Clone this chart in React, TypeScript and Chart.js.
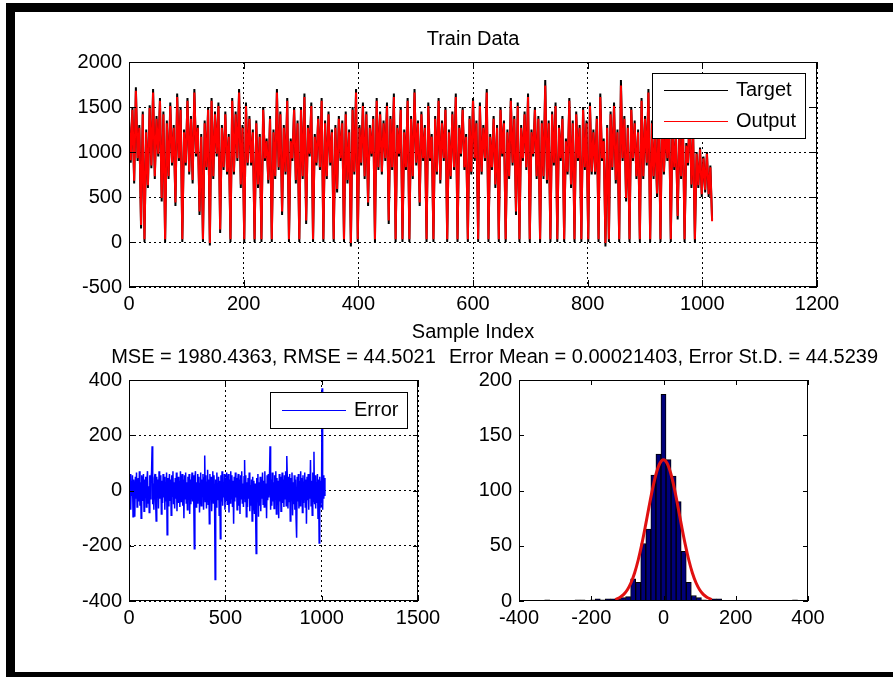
import React, { useEffect, useRef } from "react";
import { Chart, registerables } from "chart.js";

Chart.register(...registerables);

const FONT = "'Liberation Sans', Arial, Helvetica, sans-serif";

// ---------------- data ----------------
const trainStep = 3; // sample index spacing of the stored values
const trainTarget = [
  1400, 880, 1500, 650, 1720, 900, 1300, 150, 1450, 0,
  1250, 600, 1520, 820, 1700, 700, 1400, 950, 1600, 450,
  1450, 0, 1350, 700, 1550, 850, 1300, 400, 1650, 900,
  1500, 0, 1250, 850, 1600, 750, 1400, 650, 1700, 950,
  1300, 300, 1200, 0, 1350, 800, 1500, -40, 1600, 700,
  1450, 950, 1550, 100, 1300, 800, 1450, 750, 1200, 0,
  1600, 750, 1450, 900, 1700, 600, 1300, 0, 1550, 850,
  1400, 850, 1250, 0, 1350, 600, 1200, 0, 1500, 900,
  1150, 650, 1400, 0, 1250, 700, 1700, 800, 1450, 300,
  1300, 750, 1600, 0, 1150, 900, 1500, 650, 1350, 0,
  1500, 700, 1650, 200, 1300, 950, 1550, 0, 1200, 850,
  1400, 800, 1600, 0, 1350, 700, 1450, 850, 1250, 0,
  1300, 550, 1400, 900, 1350, 0, 1450, 650, 1250, -50,
  1500, 750, 1700, 0, 1300, 850, 1550, 700, 1450, 400,
  1300, 950, 1400, 0, 1600, 800, 1450, 750, 1350, 900,
  1550, 200, 1400, 800, 1650, 0, 1300, 950, 1500, 0,
  1250, 800, 1600, 0, 1400, 700, 1700, 850, 1350, 400,
  1450, 900, 1300, 0, 1550, 900, 1200, 0, 1400, 750,
  1600, 650, 1350, 900, 1500, 0, 1250, 700, 1450, 800,
  1650, 0, 1300, 950, 1500, 800, 1200, 0, 1400, 750,
  1600, 900, 1350, 0, 1550, 750, 1300, 900, 1700, 0,
  1200, 800, 1400, 600, 1300, 0, 1500, 950, 1350, 0,
  1250, 700, 1600, 850, 1400, 300, 1550, 0, 1300, 900,
  1450, 800, 1650, 0, 1250, 950, 1500, 700, 1400, 0,
  1350, 700, 1800, 650, 1350, 0, 1450, 850, 1550, 0,
  1300, 900, 1400, 0, 1150, 750, 1600, 600, 1350, 0,
  1450, 900, 1300, 0, 1500, 800, 1350, 0, 1550, 750,
  1250, 750, 1400, 0, 1650, 900, 1150, -50, 1300, 0,
  1450, 800, 1550, 650, 1250, 0, 1800, 900, 1400, 450,
  1300, 0, 1500, 900, 1350, 700, 1250, 0, 1600, 700,
  1400, 850, 1700, 0, 1350, 700, 1250, 500, 1450, 0,
  1550, 750, 1300, 900, 1450, 0, 1350, 800, 1200, 250,
  1250, 700, 1400, 0, 1100, 850, 1500, 600, 1200, 0,
  1000, 600, 1050, 500, 950, 550, 1000, 500, 850, 250,
];
const trainOutput = [
  1370, 910, 1470, 680, 1680, 930, 1270, 190, 1420, 30,
  1220, 630, 1490, 850, 1660, 730, 1370, 980, 1570, 490,
  1420, 30, 1320, 730, 1510, 880, 1270, 440, 1610, 930,
  1470, 30, 1220, 880, 1570, 780, 1370, 690, 1660, 980,
  1270, 340, 1170, 30, 1320, 830, 1470, -10, 1570, 730,
  1420, 980, 1510, 140, 1270, 830, 1420, 780, 1170, 30,
  1570, 780, 1420, 930, 1660, 640, 1270, 30, 1510, 880,
  1370, 880, 1220, 30, 1320, 640, 1170, 30, 1470, 930,
  1120, 690, 1370, 30, 1220, 730, 1660, 830, 1420, 340,
  1270, 780, 1570, 30, 1120, 930, 1470, 690, 1320, 30,
  1470, 730, 1610, 240, 1270, 980, 1510, 30, 1170, 880,
  1370, 830, 1570, 30, 1320, 730, 1420, 880, 1220, 30,
  1270, 590, 1370, 930, 1320, 30, 1420, 690, 1220, -10,
  1470, 780, 1660, 30, 1270, 880, 1510, 730, 1420, 440,
  1270, 980, 1370, 30, 1570, 830, 1420, 780, 1320, 930,
  1510, 240, 1370, 830, 1610, 30, 1270, 980, 1470, 30,
  1220, 830, 1570, 30, 1370, 730, 1660, 880, 1320, 440,
  1420, 930, 1270, 30, 1510, 930, 1170, 30, 1370, 780,
  1570, 690, 1320, 930, 1470, 30, 1220, 730, 1420, 830,
  1610, 30, 1270, 980, 1470, 830, 1170, 30, 1370, 780,
  1570, 930, 1320, 30, 1510, 780, 1270, 930, 1660, 30,
  1170, 830, 1370, 640, 1270, 30, 1470, 980, 1320, 30,
  1220, 730, 1570, 880, 1370, 340, 1510, 30, 1270, 930,
  1420, 830, 1610, 30, 1220, 980, 1470, 730, 1370, 30,
  1320, 730, 1740, 690, 1320, 30, 1420, 880, 1510, 30,
  1270, 930, 1370, 30, 1120, 780, 1570, 640, 1320, 30,
  1420, 930, 1270, 30, 1470, 830, 1320, 30, 1510, 780,
  1220, 780, 1370, 30, 1610, 930, 1120, -10, 1270, 30,
  1420, 830, 1510, 690, 1220, 30, 1740, 930, 1370, 490,
  1270, 30, 1470, 930, 1320, 730, 1220, 30, 1570, 730,
  1370, 880, 1660, 30, 1320, 730, 1220, 540, 1420, 30,
  1510, 780, 1270, 930, 1420, 30, 1320, 830, 1170, 290,
  1220, 730, 1370, 30, 1070, 880, 1470, 640, 1170, 30,
  980, 630, 1030, 530, 930, 580, 980, 530, 830, 230,
];

const errorStep = 3;
const errorValues = [
  20, -45, 60, -70, 35, -20, 55, -95, 40, 10,
  -95, 50, -30, 65, -60, 25, 45, -40, 70, -55,
  30, -100, 55, -35, 20, 60, -75, 40, -25, 50,
  -60, 35, 70, -45, 15, -80, 55, -30, 40, 65,
  160, -50, 25, -70, 45, 60, -35, -110, 50, -20,
  40, -65, 70, -30, 15, 55, -85, 35, -45, 60,
  -25, 50, -70, 30, -40, 65, -160, 45, -55, 20,
  60, -35, 40, -90, 55, -20, 70, -50, 30, -65,
  45, -30, 65, -75, 20, 50, -45, 35, -60, 70,
  -40, 25, 60, -55, 40, -100, 55, -30, 65, -45,
  30, -70, 50, -25, 60, -85, 40, -50, 20, 65,
  -40, 55, -30, -211, 45, 70, -60, 30, -45, 60,
  -35, 50, -80, 25, 65, -55, 40, -20, 60, -70,
  45, 127, -40, 55, -65, 30, 75, -50, 40, -120,
  60, -35, 50, -75, 25, 70, -45, 55, -30, -322,
  40, -60, 65, -35, 20, 50, -90, 35, -175, 55,
  -40, 70, -55, 30, -25, 60, -70, 45, -35, 65,
  -50, 25, 60, -80, 40, -45, 70, -30, 55, -60,
  35, -120, 50, -40, 65, -25, 45, -70, 30, 60,
  -55, 40, -85, 55, -30, 70, -45, 25, -60, 50,
  110, -40, 55, -95, 30, -60, 45, -30, 65, -75,
  20, -55, 40, -110, 50, -70, 35, -85, 25, -65,
  -228, 45, -40, 60, -95, 30, -55, 50, -75, 40,
  -30, 65, -50, 35, -60, 70, -45, 25, -100, 55,
  -35, 60, -25, 45, 160, -70, 40, -55, 65, -40,
  30, -65, 55, -30, 70, -85, 45, -50, 35, -100,
  60, -40, 50, -75, 25, 65, -45, 40, -60, 55,
  -30, 70, -55, 125, 35, -65, 50, -40, 60, -110,
  45, -35, 65, -90, 30, -50, 55, -70, 40, -100,
  -171, 50, -40, 60, -65, 35, -55, 70, -30, 45,
  -80, 55, -45, 30, 65, -60, 40, -120, 50, -35,
  60, -70, 45, -30, 110, -55, 35, -90, 65, -40,
  140, -50, 55, -65, 30, -45, 60, -100, 40, -190,
  50, -60, 35, -45, 370, -70, 55, -30, 45, -20,
];

const histCenters = [
  -322, -308, -294, -280, -266, -252, -238, -224, -210, -196,
  -182, -168, -154, -140, -126, -112, -98, -84, -70, -56,
  -42, -28, -14, 0, 14, 28, 42, 56, 70, 84,
  98, 112, 126, 140, 154, 168, 182, 196, 210, 224,
  238, 252, 266, 280, 294, 308, 322, 336, 350, 364,
];
const histCounts = [
  1, 0, 0, 0, 0, 0, 1, 1, 0, 1,
  2, 1, 2, 2, 2, 3, 4, 20, 17, 52,
  65, 114, 133, 187, 128, 113, 90, 45, 17, 5,
  3, 1, 0, 2, 2, 0, 0, 0, 0, 0,
  0, 0, 0, 0, 0, 0, 0, 0, 0, 1,
];
const fitX = [-133.6, -120, -110, -100, -90, -80, -70, -60, -50, -40, -30, -20, -10, 0,
  10, 20, 30, 40, 50, 60, 70, 80, 90, 100, 110, 120, 133.6];
const fitY = [1.4, 3.4, 6.0, 10.2, 16.5, 25.4, 37.1, 51.5, 68.0, 85.4, 101.9, 115.6, 124.7, 127.9,
  124.7, 115.6, 101.9, 85.4, 68.0, 51.5, 37.1, 25.4, 16.5, 10.2, 6.0, 3.4, 1.4];

const trainXTicks = [0, 200, 400, 600, 800, 1000, 1200];
const trainYTicks = [-500, 0, 500, 1000, 1500, 2000];
const errXTicks = [0, 500, 1000, 1500];
const errYTicks = [-400, -200, 0, 200, 400];
const histXTicks = [-400, -200, 0, 200, 400];
const histYTicks = [0, 50, 100, 150, 200];

const trainTitle = "Train Data";
const trainXLabel = "Sample Index";
const errTitle = "MSE = 1980.4363, RMSE = 44.5021";
const histTitle = "Error Mean = 0.00021403, Error St.D. = 44.5239";

// ---------------- helpers ----------------
const W = 893;
const H = 677;

const matlabAxes = {
  id: "matlabAxes",
  afterDatasetsDraw(chart: any, _args: any, opts: any) {
    const { ctx, chartArea: a, scales } = chart;
    const xs = scales.x;
    const ys = scales.y;
    ctx.save();
    ctx.setLineDash([]);
    ctx.strokeStyle = "#000";
    ctx.lineWidth = 1;
    const len = opts.tickLength || 5;
    ctx.beginPath();
    xs.ticks.forEach((t: any) => {
      const px = Math.round(xs.getPixelForValue(t.value)) + 0.5;
      ctx.moveTo(px, a.bottom);
      ctx.lineTo(px, a.bottom - len);
      ctx.moveTo(px, a.top);
      ctx.lineTo(px, a.top + len);
    });
    ys.ticks.forEach((t: any) => {
      const py = Math.round(ys.getPixelForValue(t.value)) + 0.5;
      ctx.moveTo(a.left, py);
      ctx.lineTo(a.left + len, py);
      ctx.moveTo(a.right, py);
      ctx.lineTo(a.right - len, py);
    });
    ctx.stroke();
    ctx.strokeRect(
      Math.round(a.left) + 0.5,
      Math.round(a.top) + 0.5,
      Math.round(a.right - a.left) - 1,
      Math.round(a.bottom - a.top) - 1
    );

    ctx.font = `20px ${FONT}`;
    ctx.fillStyle = "#000";
    if (opts.title) {
      ctx.textAlign = "center";
      ctx.textBaseline = "middle";
      ctx.fillText(opts.title, (a.left + a.right) / 2, a.top - 23);
    }

    if (opts.legend) {
      const lg = opts.legend;
      const items = chart.data.datasets.filter((d: any) => d.label);
      const textW = Math.max(...items.map((d: any) => ctx.measureText(d.label).width));
      const padL = 12, lineLen = 64, gap = 8, padR = 9, rowH = 31;
      const padV = lg.padV;
      const w = Math.round(padL + lineLen + gap + textW + padR);
      const h = Math.round(padV * 2 + rowH * (items.length - 1));
      const x0 = Math.round(a.right - lg.insetRight - w);
      const y0 = Math.round(a.top + lg.insetTop);
      ctx.fillStyle = "#fff";
      ctx.fillRect(x0, y0, w, h);
      ctx.strokeStyle = "#000";
      ctx.strokeRect(x0 + 0.5, y0 + 0.5, w, h);
      items.forEach((d: any, i: number) => {
        const cy = Math.round(y0 + padV + i * rowH) + 0.5;
        ctx.strokeStyle = d.borderColor;
        ctx.lineWidth = 1.2;
        ctx.beginPath();
        ctx.moveTo(x0 + padL, cy);
        ctx.lineTo(x0 + padL + lineLen, cy);
        ctx.stroke();
        ctx.fillStyle = "#000";
        ctx.textAlign = "left";
        ctx.textBaseline = "middle";
        ctx.fillText(d.label, x0 + padL + lineLen + gap, cy);
      });
    }
    ctx.restore();
  },
};

function axis(min: number, max: number, ticks: number[], horizontal: boolean, size: number, grid: boolean, title?: string) {
  return {
    type: "linear",
    min,
    max,
    offset: false,
    afterBuildTicks: (s: any) => {
      s.ticks = ticks.map((v) => ({ value: v }));
    },
    afterFit: (s: any) => {
      if (horizontal) s.height = size;
      else s.width = size;
    },
    ticks: {
      color: "#000",
      font: { family: FONT, size: 20 },
      padding: horizontal ? 5 : 7,
      maxRotation: 0,
      minRotation: 0,
      autoSkip: false,
      callback: (v: any) => String(v),
    },
    grid: {
      display: grid,
      color: "#000",
      lineWidth: 1,
      drawTicks: false,
      offset: false,
    },
    border: { display: false, dash: [2, 3] },
    title: title
      ? {
          display: true,
          text: title,
          color: "#000",
          font: { family: FONT, size: 20 },
          padding: { top: 0, bottom: 3 },
        }
      : { display: false },
  };
}

function baseOptions(padding: any, pluginOpts: any, scales: any) {
  return {
    animation: false,
    responsive: false,
    maintainAspectRatio: false,
    devicePixelRatio: 1,
    events: [],
    layout: { padding },
    plugins: {
      legend: { display: false },
      tooltip: { enabled: false },
      title: { display: false },
      matlabAxes: pluginOpts,
    },
    scales,
  };
}

function trainConfig(): any {
  return {
    type: "line",
    data: {
      datasets: [
        {
          label: "Target",
          data: trainTarget.map((y, i) => ({ x: i * trainStep, y })),
          borderColor: "#000000",
          borderWidth: 2,
          pointRadius: 0,
          tension: 0,
          fill: false,
          order: 1,
        },
        {
          label: "Output",
          data: trainOutput.map((y, i) => ({ x: i * trainStep, y })),
          borderColor: "#ff0000",
          borderWidth: 2,
          pointRadius: 0,
          tension: 0,
          fill: false,
          order: 0,
        },
      ],
    },
    options: baseOptions(
      { left: 69, top: 62, right: 76, bottom: 330 },
      { title: trainTitle, tickLength: 7, legend: { insetRight: 12, insetTop: 11, padV: 17 } },
      {
        x: axis(0, 1200, trainXTicks, true, 60, true, trainXLabel),
        y: axis(-500, 2000, trainYTicks, false, 60, true),
      }
    ),
    plugins: [matlabAxes],
  };
}

function errorConfig(): any {
  return {
    type: "line",
    data: {
      datasets: [
        {
          label: "Error",
          data: errorValues.map((y, i) => ({ x: i * errorStep, y })),
          borderColor: "#0000ff",
          borderWidth: 1.5,
          pointRadius: 0,
          tension: 0,
          fill: false,
        },
      ],
    },
    options: baseOptions(
      { left: 69, top: 380, right: 475, bottom: 36 },
      { title: errTitle, tickLength: 5, legend: { insetRight: 11, insetTop: 12, padV: 18 } },
      {
        x: axis(0, 1500, errXTicks, true, 40, true),
        y: axis(-400, 400, errYTicks, false, 60, true),
      }
    ),
    plugins: [matlabAxes],
  };
}

function histConfig(): any {
  return {
    type: "bar",
    data: {
      datasets: [
        {
          type: "bar",
          label: "",
          data: histCenters.map((x, i) => ({ x, y: histCounts[i] })),
          backgroundColor: "#00007a",
          borderColor: "#000000",
          borderWidth: 1,
          barPercentage: 1,
          categoryPercentage: 1,
          order: 1,
        },
        {
          type: "line",
          label: "",
          data: fitX.map((x, i) => ({ x, y: fitY[i] })),
          borderColor: "#e01010",
          borderWidth: 3,
          pointRadius: 0,
          cubicInterpolationMode: "monotone",
          fill: false,
          order: 0,
        },
      ],
    },
    options: baseOptions(
      { left: 459, top: 380, right: 85, bottom: 36 },
      { title: histTitle, tickLength: 5, legend: null },
      {
        x: axis(-400, 400, histXTicks, true, 40, false),
        y: axis(0, 200, histYTicks, false, 60, false),
      }
    ),
    plugins: [matlabAxes],
  };
}

function ChartCanvas({ make }: { make: () => any }) {
  const ref = useRef<HTMLCanvasElement>(null);
  useEffect(() => {
    const chart = new Chart(ref.current as HTMLCanvasElement, make());
    return () => chart.destroy();
  }, [make]);
  return (
    <canvas
      ref={ref}
      width={W}
      height={H}
      style={{ position: "absolute", left: 0, top: 0, width: W, height: H }}
    />
  );
}

export default function App() {
  return (
    <div
      style={{
        position: "fixed",
        left: 0,
        top: 0,
        width: W,
        height: H,
        overflow: "hidden",
        background: "#fff",
      }}
    >
      <div
        style={{
          position: "absolute",
          left: 6,
          top: 3,
          width: 1000,
          height: 660,
          borderLeft: "9px solid #000",
          borderTop: "9px solid #000",
          borderBottom: "9px solid #000",
        }}
      />
      <ChartCanvas make={trainConfig} />
      <ChartCanvas make={errorConfig} />
      <ChartCanvas make={histConfig} />
    </div>
  );
}
